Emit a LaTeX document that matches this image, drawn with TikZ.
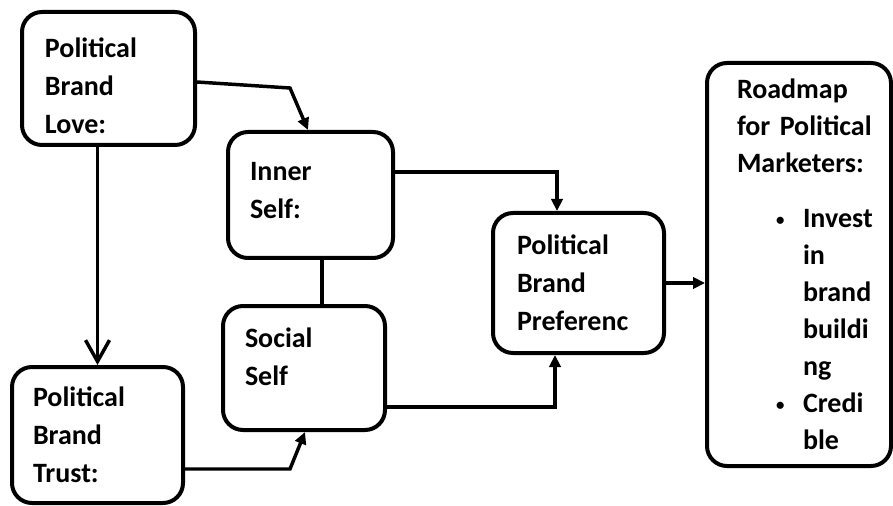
\documentclass[tikz,border=0pt]{standalone}
\usepackage{fontspec}
\setmainfont{Carlito}
\usetikzlibrary{arrows.meta}
\newlength{\px}\setlength{\px}{0.75pt}
\newcommand{\bul}{\hspace*{39\px}\makebox[27\px][l]{\raisebox{2\px}{\scalebox{0.6}{\textbullet}}}}
\newcommand{\ind}{\hspace*{66\px}}
\newcommand{\lift}[1]{\rule[-#1]{0pt}{#1}}
\newcommand{\drop}[1]{\rule{0pt}{#1}}

\begin{document}
\begin{tikzpicture}[x=0.75pt,y=-0.75pt,
   box/.style={draw,line width=3pt,rounded corners=15pt,align=left,inner sep=0pt,
     font=\fontsize{21}{28.5}\selectfont\bfseries},
   link/.style={line width=2.6pt},
   tip/.style={link,-{Triangle[length=9pt,width=8.5pt]}},
   vee/.style={link,-{Straight Barb[length=16pt,width=18pt]}}]
   \useasboundingbox (0,0) rectangle (893,506);
   % boxes
   \node[box,minimum width=173\px,minimum height=133\px,text width=127\px]
     (love) at (108.5,78.5) {\drop{34\px}Political\\Brand\\Love:};
   \node[box,minimum width=171\px,minimum height=136\px,text width=129\px]
     (trust) at (97.5,435) {Political\\Brand\\Trust:};
   \node[box,minimum width=165\px,minimum height=126\px,text width=121\px]
     (inner) at (310.5,195) {Inner\\Self:\lift{10\px}};
   \node[box,minimum width=162\px,minimum height=124\px,text width=118\px]
     (social) at (304,368) {Social\\Self\lift{22\px}};
   \node[box,minimum width=171\px,minimum height=140\px,text width=123\px]
     (pref) at (578.5,283) {Political\\Brand\\Preferenc};
   \node[box,minimum width=184\px,minimum height=403\px,text width=124\px,
     font=\fontsize{21}{27.75}\selectfont\bfseries]
     (road) at (799,264.5) {Roadmap\\\mbox{for Political}\\Marketers:\\[13.5pt]
       \bul Invest\\ \ind in\\ \ind brand\\ \ind buildi\\ \ind ng\\
       \bul Credi\\ \ind ble};
   % bends of the links
   \coordinate (li0) at (0,82);
   \coordinate (li) at (290,88);
   \coordinate (lx) at (308,0);
   \coordinate (ip) at (557,172);
   \coordinate (sp) at (555,407);
   \coordinate (is) at (322,0);
   \coordinate (ts) at (290,469);
   \coordinate (tx) at (305,0);
   % links
   \draw[tip] (love.east |- li0) -- (li) -- (inner.north -| lx);
   \draw[vee] (love.south -| trust.north) -- (trust.north);
   \draw[tip] (inner.east |- ip) -| (pref.north -| ip);
   \draw[link] (inner.south -| is) -- (social.north -| is);
   \draw[tip] (social.east |- sp) -| (pref.south -| sp);
   \draw[tip] (trust.east |- ts) -- (ts) -- (social.south -| tx);
   \draw[tip] (pref.east) -- (pref.east -| road.west);
\end{tikzpicture}
\end{document}
